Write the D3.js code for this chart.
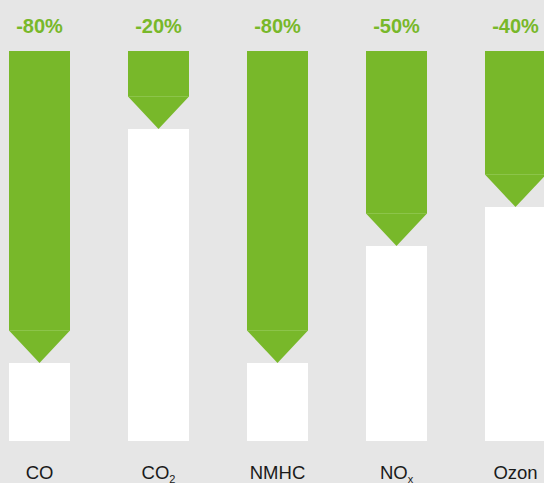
<!DOCTYPE html>
<html>
<head>
<meta charset="utf-8">
<script src="https://cdn.jsdelivr.net/npm/d3@7"></script>
<style>
  html, body { margin: 0; padding: 0; background: #e6e6e6; }
  svg { display: block; }
</style>
</head>
<body>
<svg></svg>
<script>
var categories = ["CO", "CO2", "NMHC", "NOx", "Ozon"];
var labelBase = ["CO", "CO", "NMHC", "NO", "Ozon"];
var labelSub = ["", "2", "", "x", ""];
var reduction = [80, 20, 80, 50, 40];
var reductionLabels = ["-80%", "-20%", "-80%", "-50%", "-40%"];

var width = 544;
var height = 483;
var green = "#78b82a";
var arrowH = 32.5;

var svg = d3.select("svg")
  .attr("width", width)
  .attr("height", height);

svg.append("rect")
  .attr("width", width)
  .attr("height", height)
  .attr("fill", "#e6e6e6");

var x = d3.scaleBand()
  .domain(categories)
  .range([9, 546])
  .paddingInner(58 / 119)
  .paddingOuter(0);

// 100 at the top of each bar, 0 at the bottom
var y = d3.scaleLinear().domain([0, 100]).range([441, 51]);

var cols = svg.selectAll(".col")
  .data(categories)
  .enter()
  .append("g")
  .attr("class", "col")
  .attr("transform", (d) => `translate(${x(d)},0)`);

var bw = x.bandwidth();

// white remaining part
cols.append("rect")
  .attr("x", 0)
  .attr("width", bw)
  .attr("y", (d, i) => y(100 - reduction[i]))
  .attr("height", (d, i) => y(0) - y(100 - reduction[i]))
  .attr("fill", "#fff");

// green reduction part ending with a downward arrow
cols.append("path")
  .attr("fill", green)
  .attr("d", (d, i) => {
    var top = y(100);
    var tip = y(100 - reduction[i]);
    var base = tip - arrowH;
    return `M0,${top}H${bw}V${base}L${bw / 2},${tip}L0,${base}Z`;
  });

// faint seam between bar and arrow head
cols.append("line")
  .attr("x1", 0)
  .attr("x2", bw)
  .attr("y1", (d, i) => y(100 - reduction[i]) - arrowH)
  .attr("y2", (d, i) => y(100 - reduction[i]) - arrowH)
  .attr("stroke", "#8cc44a")
  .attr("stroke-width", 1);

cols.append("text")
  .attr("x", bw / 2)
  .attr("y", 33)
  .attr("text-anchor", "middle")
  .attr("font-family", "Liberation Sans, Arial, sans-serif")
  .attr("font-weight", "bold")
  .attr("font-size", 20)
  .attr("fill", green)
  .text((d, i) => reductionLabels[i]);

var lab = cols.append("text")
  .attr("x", bw / 2)
  .attr("y", 478.5)
  .attr("text-anchor", "middle")
  .attr("font-family", "Liberation Sans, Arial, sans-serif")
  .attr("font-size", 18.5)
  .attr("fill", "#1a1a1a");

lab.append("tspan").text((d, i) => labelBase[i]);
lab.append("tspan")
  .attr("dy", 4)
  .attr("font-size", 11)
  .text((d, i) => labelSub[i]);
</script>
</body>
</html>
